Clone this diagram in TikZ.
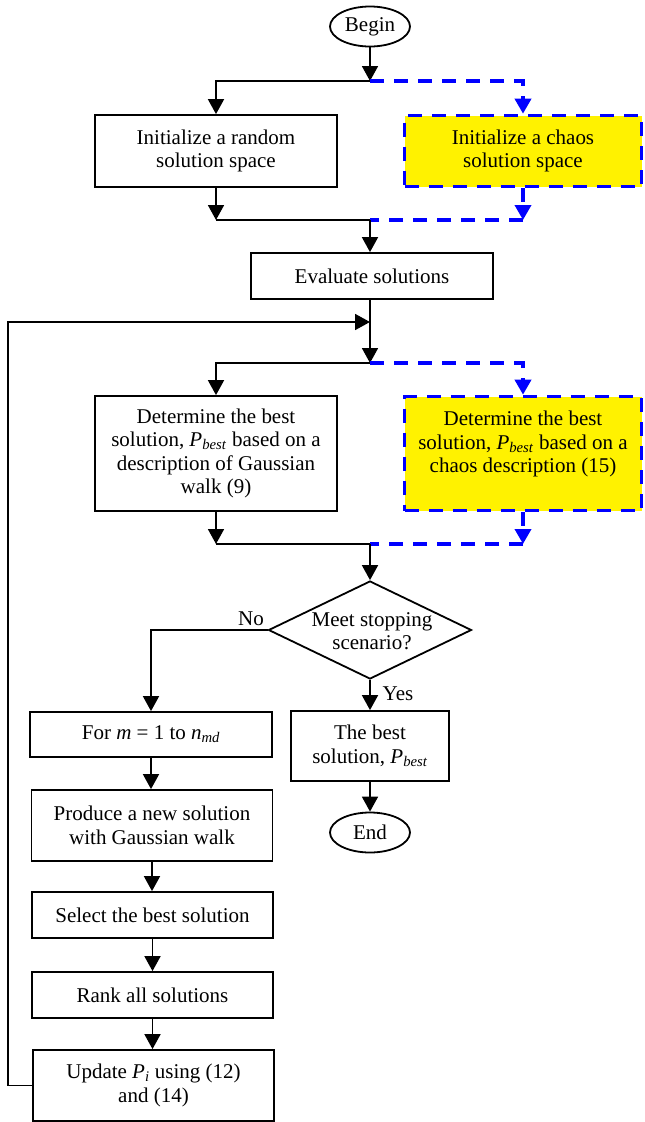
\documentclass[tikz,border=0pt]{standalone}
\usepackage{fontspec}
\setmainfont{Liberation Serif}
\usetikzlibrary{arrows.meta,shapes.geometric}
\newcommand{\Pbest}{\textit{P}\textsubscript{\textit{best}}}
\begin{document}
\begin{tikzpicture}[x=1pt,y=-1pt,
  every node/.style={font=\fontsize{21}{23.5}\selectfont},
  box/.style={draw,line width=1.8pt,align=center,inner sep=0pt},
  cbox/.style={draw=blue,fill=yellow,dash pattern=on 14pt off 10pt,line width=3.6pt,align=center,inner sep=0pt},
  term/.style={draw,ellipse,line width=1.8pt,inner sep=0pt,minimum width=80pt,minimum height=40pt},
  arr/.style={line width=1.8pt,-{Triangle[length=15pt,width=16pt]}},
  ln/.style={line width=1.8pt},
  barr/.style={blue,line width=3.6pt,dash pattern=on 14pt off 10pt,-{Triangle[length=15pt,width=16pt]}},
  bln/.style={blue,line width=3.6pt,dash pattern=on 14pt off 10pt}]
\useasboundingbox (0,0) rectangle (645,1122);

\node[term] (begin) at (370,26.5) {Begin};
\node[box,minimum width=242pt,minimum height=72pt] (init1) at (216,151) {Initialize a random\\solution space};
\node[cbox,minimum width=237pt,minimum height=71pt] (init2) at (523,151) {Initialize a chaos\\solution space};
\node[box,minimum width=242pt,minimum height=46pt] (eval) at (372,276) {Evaluate solutions};
\node[box,minimum width=242pt,minimum height=115pt] (det1) at (216,453.5) {Determine the best\\solution, \Pbest{} based on a\\description of Gaussian\\walk (9)};
\node[cbox,minimum width=237pt,minimum height=114pt] (det2) at (523,453.5) {};
\node[align=center] (det2t) at (523,444) {Determine the best\\solution, \Pbest{} based on a\\chaos description (15)};
\node[draw,diamond,line width=1.8pt,minimum width=203pt,minimum height=98pt,inner sep=0pt] (dec) at (370,630) {};
\node[align=center] (dectext) at (372,631) {Meet stopping\\scenario?};
\node (no) at (251,619) {No};
\node (yes) at (398,694) {Yes};
\node[box,minimum width=242pt,minimum height=45pt] (for) at (151,734.5) {For \textit{m} = 1 to \textit{n}\textsubscript{\textit{md}}};
\node[box,minimum width=158pt,minimum height=70pt] (best) at (370,746) {The best\\solution, \Pbest};
\node[term] (end) at (370,832.5) {End};
\node[box,minimum width=241pt,minimum height=71pt] (prod) at (152,825.5) {Produce a new solution\\with Gaussian walk};
\node[box,minimum width=241pt,minimum height=46pt] (sel) at (152.5,915) {Select the best solution};
\node[box,minimum width=241pt,minimum height=46pt] (rank) at (152.5,995) {Rank all solutions};
\node[box,minimum width=241pt,minimum height=71pt] (upd) at (153.5,1085.5) {Update \textit{P}\textsubscript{\textit{i}} using (12)\\and (14)};

\coordinate (s1) at (370,81);
\coordinate (m1) at (370,220);
\coordinate (loop) at (370,322);
\coordinate (s2) at (370,363);
\coordinate (m2) at (370,544);
\coordinate (lx) at (8,322);

\draw[arr] (begin.south) -- (s1);
\draw[arr] (s1) -| (init1.north);
\draw[barr] (s1) -| (init2.north);
\draw[arr] (init1.south) -- (init1.south |- m1);
\draw[ln] (init1.south |- m1) -- (m1);
\draw[barr] (init2.south) -- (init2.south |- m1);
\draw[bln] (init2.south |- m1) -- (m1);
\draw[arr] (m1) -- (m1 |- eval.north);
\draw[ln] (m1 |- eval.south) -- (loop);
\draw[arr] (loop) -- (s2);
\draw[arr] (s2) -| (det1.north);
\draw[barr] (s2) -| (det2.north);
\draw[arr] (det1.south) -- (det1.south |- m2);
\draw[ln] (det1.south |- m2) -- (m2);
\draw[barr] (det2.south) -- (det2.south |- m2);
\draw[bln] (det2.south |- m2) -- (m2);
\draw[arr] (m2) -- (dec.north);
\draw[arr] (dec.west) -| (for.north);
\draw[arr] (dec.south) -- (best.north);
\draw[arr] (best.south) -- (end.north);
\draw[arr] (for.south) -- (for.south |- prod.north);
\draw[arr] (prod.south) -- (prod.south |- sel.north);
\draw[arr] (sel.south) -- (sel.south |- rank.north);
\draw[arr] (rank.south) -- (rank.south |- upd.north);
\draw[arr] (upd.west) -| (lx) -- (loop);
\end{tikzpicture}
\end{document}
